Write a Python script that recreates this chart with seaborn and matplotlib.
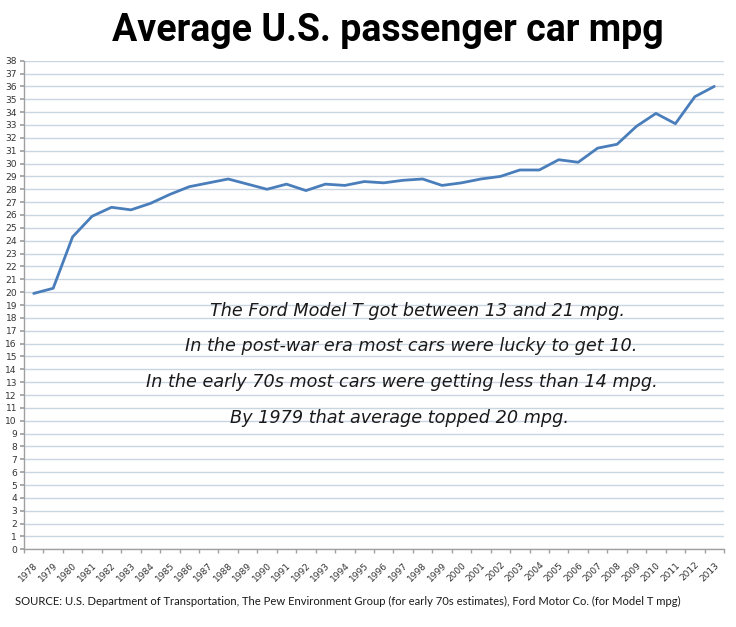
import matplotlib
matplotlib.use("Agg")
import matplotlib.pyplot as plt
import matplotlib.transforms as mtransforms
import seaborn as sns
import pandas as pd
import numpy as np

years = list(range(1978, 2014))
mpg = [19.9, 20.3, 24.3, 25.9, 26.6, 26.4, 26.9, 27.6, 28.2, 28.5,
       28.8, 28.4, 28.0, 28.4, 27.9, 28.4, 28.3, 28.6, 28.5, 28.7,
       28.8, 28.3, 28.5, 28.8, 29.0, 29.5, 29.5, 30.3, 30.1, 31.2,
       31.5, 32.9, 33.9, 33.1, 35.2, 36.0]
y_ticks = list(range(0, 39))
title = "Average U.S. passenger car mpg"
notes = ["The Ford Model T got between 13 and 21 mpg.",
         "In the post-war era most cars were lucky to get 10.",
         "In the early 70s most cars were getting less than 14 mpg.",
         "By 1979 that average topped 20 mpg."]
source = ("SOURCE: U.S. Department of Transportation, The Pew Environment Group "
          "(for early 70s estimates), Ford Motor Co. (for Model T mpg)")

df = pd.DataFrame({"year": years, "mpg": mpg})

sns.set_theme(style="white")
plt.rcParams['font.family'] = ['DejaVu Sans']

fig = plt.figure(figsize=(7.36, 6.27), dpi=100)
ax = fig.add_axes([0.0326, 0.1239, 0.9511, 0.7793])

sns.lineplot(data=df, x="year", y="mpg", ax=ax, color="#4a7ebb", linewidth=2.0)

ax.set_xlim(years[0] - 0.5, years[-1] + 0.5)
ax.set_ylim(0, 38)
ax.set_yticks(y_ticks)
ax.set_yticklabels([str(v) for v in y_ticks], fontsize=6.6, color="#333333")
ax.set_xticks(years)
ax.set_xticklabels([str(y) for y in years], rotation=45, fontsize=6.5,
                   color="#333333", ha="right", rotation_mode="anchor")
shift = mtransforms.ScaledTranslation(-3 / 100, 0, fig.dpi_scale_trans)
for lab in ax.get_xticklabels():
    lab.set_transform(lab.get_transform() + shift)
ax.set_xticks([y + 0.5 for y in [years[0] - 1] + years], minor=True)
ax.tick_params(axis="x", which="major", length=0, pad=8)
ax.tick_params(axis="x", which="minor", length=3, color="#a0a0a0", direction="out", bottom=True)
ax.tick_params(axis="y", which="major", length=3, color="#a0a0a0", direction="out", left=True, pad=2)
ax.grid(axis="y", color="#c9d5e1", linewidth=1.0)
ax.set_axisbelow(True)
ax.set_xlabel("")
ax.set_ylabel("")
for s in ["top", "right"]:
    ax.spines[s].set_visible(False)
for s in ["left", "bottom"]:
    ax.spines[s].set_color("#a0a0a0")
    ax.spines[s].set_linewidth(1.0)

fig.text(0.527, 0.952, title, ha="center", va="center", fontsize=27,
         fontweight="bold", family="Roboto", color="#000000")

note_x = [0.567, 0.558, 0.546, 0.543]
note_y = [0.504, 0.448, 0.391, 0.333]
for t, xx, yy in zip(notes, note_x, note_y):
    fig.text(xx, yy, t, ha="center", va="center", fontsize=12.7,
             style="italic", color="#1a1a1a")

fig.text(0.02, 0.041, source, ha="left", va="center", fontsize=8.15,
         family="Lato", color="#1a1a1a")

fig.savefig("out.png", dpi=100, facecolor="white")
